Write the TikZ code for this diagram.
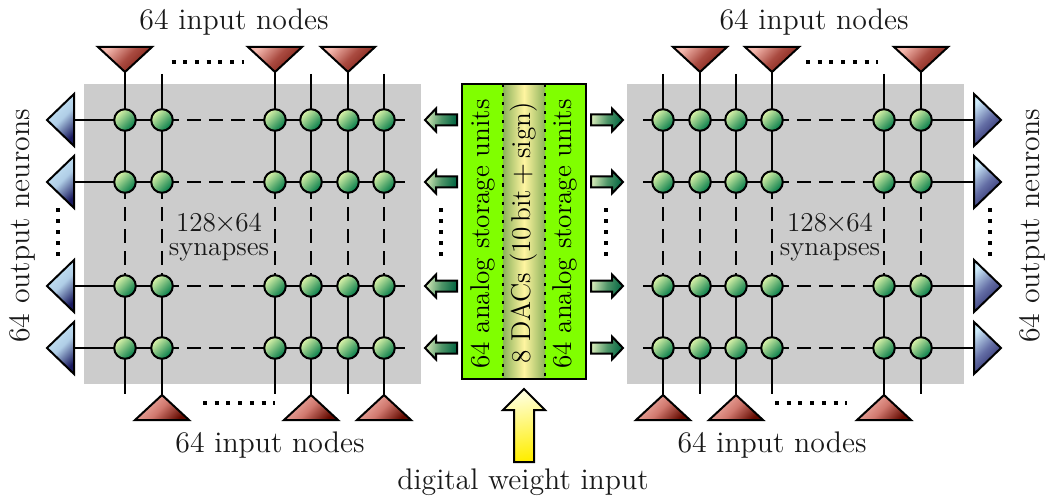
\documentclass[tikz,border=0pt]{standalone}
\usetikzlibrary{shapes.geometric}
\definecolor{grayback}{RGB}{204,204,204}
\definecolor{boxgreen}{RGB}{128,255,0}
\definecolor{stripedge}{RGB}{140,178,92}
\definecolor{stripmid}{RGB}{255,245,160}
\definecolor{synlight}{RGB}{222,245,170}
\definecolor{syndark}{RGB}{0,122,72}
\definecolor{redlight}{RGB}{245,185,175}
\definecolor{redmidA}{RGB}{170,75,65}
\definecolor{redmidB}{RGB}{208,120,110}
\definecolor{reddarkA}{RGB}{120,25,15}
\definecolor{reddarkB}{RGB}{100,10,0}
\definecolor{bluelight}{RGB}{205,235,250}
\definecolor{bluemidA}{RGB}{100,110,165}
\definecolor{bluemidB}{RGB}{175,205,230}
\definecolor{bluedarkA}{RGB}{35,35,100}
\definecolor{bluedarkB}{RGB}{25,25,95}
\definecolor{arrlight}{RGB}{215,235,185}
\definecolor{arrmid}{RGB}{80,150,105}
\definecolor{arrdark}{RGB}{0,100,65}
\definecolor{yellight}{RGB}{255,255,225}
\definecolor{yeldark}{RGB}{255,238,0}
\newcommand{\bigfont}{\fontsize{14.9}{17}\selectfont}
\newcommand{\midfont}{\fontsize{13.6}{12}\selectfont}
\tikzset{
  x=0.5pt,y=-0.5pt,
  every node/.style={inner sep=0pt,outer sep=0pt},
  wire/.style={line width=1pt,black},
  gapwire/.style={wire,dash pattern=on 6.75pt off 4.25pt,dash phase=3.75pt},
  dotrow/.style={line width=2pt,black,dash pattern=on 2pt off 3.85pt},
  dotcol/.style={line width=2pt,black,dash pattern=on 2pt off 3.5pt},
  grayblock/.style={rectangle,fill=grayback,minimum width=168.5pt,minimum height=150pt},
  synapse/.style={circle,draw=black,line width=1pt,minimum size=10.8pt,
    top color=synlight,bottom color=syndark,shading angle=45},
  tri/.style={isosceles triangle,isosceles triangle stretches,draw=black,line width=1pt,anchor=apex},
  inputdown/.style={tri,minimum height=12.5pt,minimum width=27pt,shape border rotate=270,
    top color=redlight,bottom color=reddarkA,middle color=redmidA,shading angle=45},
  inputup/.style={tri,minimum height=12.5pt,minimum width=27pt,shape border rotate=90,
    top color=redlight,bottom color=reddarkB,middle color=redmidB,shading angle=45},
  outputright/.style={tri,minimum height=13.5pt,minimum width=26pt,
    top color=bluelight,bottom color=bluedarkA,middle color=bluemidA,shading angle=45},
  outputleft/.style={tri,minimum height=13.5pt,minimum width=26pt,shape border rotate=180,
    top color=bluelight,bottom color=bluedarkB,middle color=bluemidB,shading angle=45},
  minia/.style={draw=black,line width=1pt,left color=arrlight,right color=arrdark,middle color=arrmid,shading angle=80},
  bigarr/.style={draw=black,line width=1pt,top color=yellight,bottom color=yeldark,shading angle=10},
  label/.style={font=\bigfont,text=black!90},
  smalllabel/.style={font=\midfont,text=black!90,align=center},
  vtext/.style={font=\midfont,rotate=90,text=black},
  dacdots/.style={line width=1pt,dash pattern=on 1.5pt off 3pt}
}
\begin{document}
\begin{tikzpicture}
\useasboundingbox (0,0) rectangle (1047,497);
% backgrounds
\node[grayblock] (grayL) at (252.5,234) {};
\node[grayblock] (grayR) at (795.5,234) {};
% synapses
\foreach \r/\y in {1/120,2/182,3/286,4/348}{
  \foreach \c/\x in {1/125,2/162,3/275,4/311,5/348,6/384}
    \node[synapse] (a\r\c) at (\x,\y) {};
  \foreach \c/\x in {1/663,2/700,3/736,4/772,5/884,6/921}
    \node[synapse] (b\r\c) at (\x,\y) {};
  \node[outputleft] (oL\r) at (47,\y) {};
  \node[outputright] (oR\r) at (1001,\y) {};
  \coordinate (endL\r) at (405,\y);
  \coordinate (endR\r) at (643,\y);
}
% input triangles
\foreach \c/\x in {1/125,3/275,5/348}{
  \node[inputdown] (ta\c) at (\x,72) {};
  \coordinate (aT\c) at (ta\c.apex);
}
\foreach \c/\x in {2/162,4/311,6/384}{
  \node[inputup] (ta\c) at (\x,395) {};
  \coordinate (aB\c) at (ta\c.apex);
}
\foreach \c/\x in {2/162,4/311,6/384} \coordinate (aT\c) at (\x,74);
\foreach \c/\x in {1/125,3/275,5/348} \coordinate (aB\c) at (\x,394);
\foreach \c/\x in {2/700,4/772,6/921}{
  \node[inputdown] (tb\c) at (\x,72) {};
  \coordinate (bT\c) at (tb\c.apex);
}
\foreach \c/\x in {1/663,3/736,5/884}{
  \node[inputup] (tb\c) at (\x,395) {};
  \coordinate (bB\c) at (tb\c.apex);
}
\foreach \c/\x in {1/663,3/736,5/884} \coordinate (bT\c) at (\x,74);
\foreach \c/\x in {2/700,4/772,6/921} \coordinate (bB\c) at (\x,394);
% wires
\foreach \r in {1,2,3,4}{
  \draw[wire] (oL\r.lower side) -- (a\r1) -- (a\r2);
  \draw[gapwire] (a\r2) -- (a\r3);
  \draw[wire] (a\r3) -- (a\r4) -- (a\r5) -- (a\r6) -- (endL\r);
  \draw[wire] (endR\r) -- (b\r1) -- (b\r2) -- (b\r3) -- (b\r4);
  \draw[gapwire] (b\r4) -- (b\r5);
  \draw[wire] (b\r5) -- (b\r6) -- (oR\r.lower side);
}
\foreach \c in {1,...,6}{
  \draw[wire] (aT\c) -- (a1\c) -- (a2\c);
  \draw[gapwire] (a2\c) -- (a3\c);
  \draw[wire] (a3\c) -- (a4\c) -- (aB\c);
  \draw[wire] (bT\c) -- (b1\c) -- (b2\c);
  \draw[gapwire] (b2\c) -- (b3\c);
  \draw[wire] (b3\c) -- (b4\c) -- (bB\c);
}
% dots
\foreach \a/\xa/\ya/\xb/\yb in {1/171.5/62/244/62,2/203/403/275/403,3/806/62/878/62,4/775/403/847/403}{
  \coordinate (ds\a) at (\xa,\ya);
  \coordinate (de\a) at (\xb,\yb);
  \draw[dotrow] (ds\a) -- (de\a);
}
\foreach \a/\x in {5/58,6/441,7/606,8/990}{
  \coordinate (ds\a) at (\x,208);
  \coordinate (de\a) at (\x,256);
  \draw[dotcol] (ds\a) -- (de\a);
}
% central block
\node[rectangle,fill=boxgreen,minimum width=62pt,minimum height=147.5pt] (store) at (524,231.5) {};
\node[rectangle,left color=stripedge,right color=stripedge,middle color=stripmid,
  minimum width=21pt,minimum height=147pt] (dac) at (524,231.5) {};
\draw[dacdots] (dac.north west) -- (dac.south west);
\draw[dacdots] (dac.north east) -- (dac.south east);
\draw[line width=1pt] (store.north west) rectangle (store.south east);
\node[vtext] (s1) at (483,234) {64 analog storage units};
\node[vtext] (s2) at (523.5,233) {8 DACs (10\,bit\,$+$\,sign)};
\node[vtext] (s3) at (565,234) {64 analog storage units};
% arrows
\foreach \r/\y in {1/120,2/182,3/286,4/348}{
  \path[minia] (457,\y-5.5) -- (436,\y-5.5) -- (436,\y-11.5) -- (425,\y) -- (436,\y+11.5) -- (436,\y+5.5) -- (457,\y+5.5) -- cycle;
  \path[minia] (591,\y-5.5) -- (612,\y-5.5) -- (612,\y-11.5) -- (623,\y) -- (612,\y+11.5) -- (612,\y+5.5) -- (591,\y+5.5) -- cycle;
}
\path[bigarr] (514,462) -- (514,410) -- (503,410) -- (524,389) -- (545,410) -- (534,410) -- (534,462) -- cycle;
% labels
\node[label] (l1) at (234,22) {64 input nodes};
\node[label] (l2) at (814,22) {64 input nodes};
\node[label] (l3) at (270,445) {64 input nodes};
\node[label] (l4) at (772,445) {64 input nodes};
\node[label] (l5) at (523,482) {digital weight input};
\node[label,rotate=90] (l6) at (22,226) {64 output neurons};
\node[label,rotate=90] (l7) at (1032,226) {64 output neurons};
\node[smalllabel] (c1) at (219,237) {128\kern-0.8pt{$\times$}\kern-0.8pt64\\synapses};
\node[smalllabel] (c2) at (830,237) {128\kern-0.8pt{$\times$}\kern-0.8pt64\\synapses};
\end{tikzpicture}
\end{document}
